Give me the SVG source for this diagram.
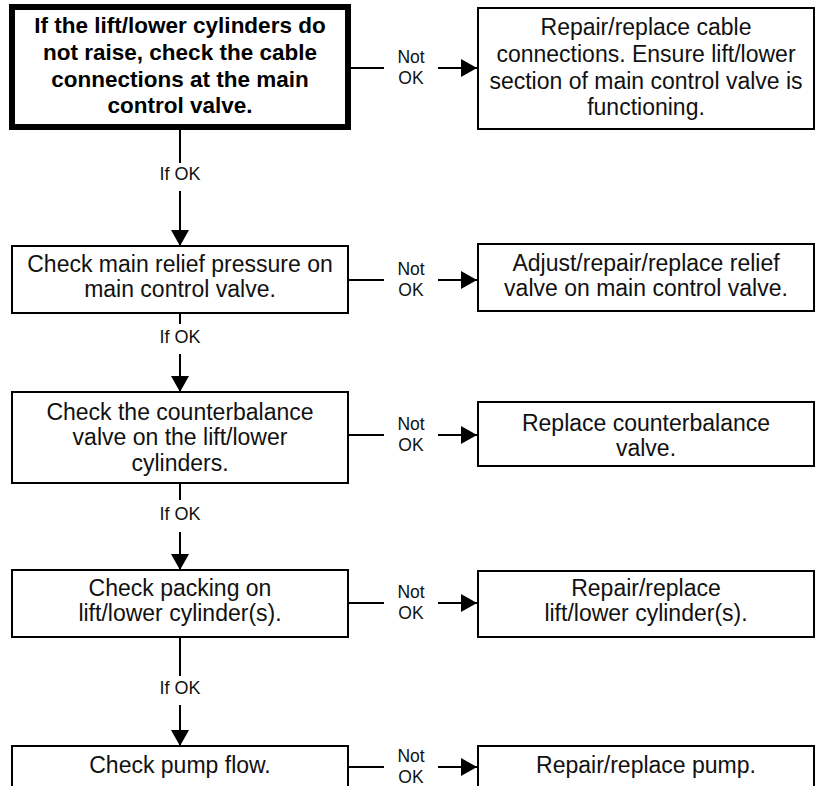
<svg xmlns="http://www.w3.org/2000/svg" width="820" height="786" viewBox="0 0 820 786">
  <style>
    .box { fill: #ffffff; stroke: #000000; stroke-width: 2; }
    .box-main { fill: #ffffff; stroke: #000000; stroke-width: 6; }
    .txt { font-family: "Liberation Sans", Arial, Helvetica, sans-serif; font-size: 23px; fill: #111111; text-anchor: middle; }
    .txt-bold { font-family: "Liberation Sans", Arial, Helvetica, sans-serif; font-size: 22.5px; font-weight: bold; fill: #000000; text-anchor: middle; }
    .lbl { font-family: "Liberation Sans", Arial, Helvetica, sans-serif; font-size: 17.5px; fill: #111111; text-anchor: middle; }
    .lbl-ok { font-family: "Liberation Sans", Arial, Helvetica, sans-serif; font-size: 18px; fill: #111111; text-anchor: middle; }
    .wire { fill: none; stroke: #000000; stroke-width: 2; }
  </style>
  <defs>
    <marker id="arrow" markerUnits="userSpaceOnUse" markerWidth="17" markerHeight="18" refX="16" refY="9" orient="auto">
      <path d="M0,0 L16,9 L0,18 Z" fill="#000000"/>
    </marker>
  </defs>

  <rect width="820" height="786" fill="#ffffff"/>

  <!-- connectors -->
  <g id="connectors">
    <!-- "Not OK" branches to the right -->
    <line class="wire" x1="351" y1="68" x2="384" y2="68"/>
    <line class="wire" x1="438" y1="68" x2="477" y2="68" marker-end="url(#arrow)"/>
    <text class="lbl" x="411" y="63">Not</text>
    <text class="lbl" x="411" y="84">OK</text>

    <line class="wire" x1="348" y1="280" x2="384" y2="280"/>
    <line class="wire" x1="438" y1="280" x2="477" y2="280" marker-end="url(#arrow)"/>
    <text class="lbl" x="411" y="275">Not</text>
    <text class="lbl" x="411" y="296">OK</text>

    <line class="wire" x1="348" y1="435" x2="384" y2="435"/>
    <line class="wire" x1="438" y1="435" x2="477" y2="435" marker-end="url(#arrow)"/>
    <text class="lbl" x="411" y="430">Not</text>
    <text class="lbl" x="411" y="451">OK</text>

    <line class="wire" x1="348" y1="603" x2="384" y2="603"/>
    <line class="wire" x1="438" y1="603" x2="477" y2="603" marker-end="url(#arrow)"/>
    <text class="lbl" x="411" y="598">Not</text>
    <text class="lbl" x="411" y="619">OK</text>

    <line class="wire" x1="348" y1="767" x2="384" y2="767"/>
    <line class="wire" x1="438" y1="767" x2="477" y2="767" marker-end="url(#arrow)"/>
    <text class="lbl" x="411" y="762">Not</text>
    <text class="lbl" x="411" y="783">OK</text>

    <!-- "If OK" links down the left column -->
    <line class="wire" x1="180" y1="130" x2="180" y2="163"/>
    <text class="lbl-ok" x="180" y="180">If OK</text>
    <line class="wire" x1="180" y1="191" x2="180" y2="246" marker-end="url(#arrow)"/>

    <line class="wire" x1="180" y1="313" x2="180" y2="324"/>
    <text class="lbl-ok" x="180" y="343">If OK</text>
    <line class="wire" x1="180" y1="354" x2="180" y2="392" marker-end="url(#arrow)"/>

    <line class="wire" x1="180" y1="483" x2="180" y2="500"/>
    <text class="lbl-ok" x="180" y="520">If OK</text>
    <line class="wire" x1="180" y1="532" x2="180" y2="570" marker-end="url(#arrow)"/>

    <line class="wire" x1="180" y1="637" x2="180" y2="676"/>
    <text class="lbl-ok" x="180" y="694">If OK</text>
    <line class="wire" x1="180" y1="705" x2="180" y2="746" marker-end="url(#arrow)"/>
  </g>

  <!-- left column: checks -->
  <g id="check-cables">
    <rect class="box-main" x="12" y="7" width="336" height="120"/>
    <text class="txt-bold" x="180" y="33">If the lift/lower cylinders do</text>
    <text class="txt-bold" x="180" y="60">not raise, check the cable</text>
    <text class="txt-bold" x="180" y="87">connections at the main</text>
    <text class="txt-bold" x="180" y="113">control valve.</text>
  </g>

  <g id="check-relief">
    <rect class="box" x="12" y="246" width="336" height="67"/>
    <text class="txt" x="180" y="272">Check main relief pressure on</text>
    <text class="txt" x="180" y="297">main control valve.</text>
  </g>

  <g id="check-counterbalance">
    <rect class="box" x="12" y="392" width="336" height="91"/>
    <text class="txt" x="180" y="420">Check the counterbalance</text>
    <text class="txt" x="180" y="445">valve on the lift/lower</text>
    <text class="txt" x="180" y="471">cylinders.</text>
  </g>

  <g id="check-packing">
    <rect class="box" x="12" y="570" width="336" height="67"/>
    <text class="txt" x="180" y="596">Check packing on</text>
    <text class="txt" x="180" y="621">lift/lower cylinder(s).</text>
  </g>

  <g id="check-pump">
    <rect class="box" x="12" y="746" width="336" height="60"/>
    <text class="txt" x="180" y="773">Check pump flow.</text>
  </g>

  <!-- right column: remedies -->
  <g id="fix-cables">
    <rect class="box" x="478" y="8" width="336" height="121"/>
    <text class="txt" x="646" y="35">Repair/replace cable</text>
    <text class="txt" x="646" y="62">connections. Ensure lift/lower</text>
    <text class="txt" x="646" y="89">section of main control valve is</text>
    <text class="txt" x="646" y="115">functioning.</text>
  </g>

  <g id="fix-relief">
    <rect class="box" x="478" y="244" width="336" height="67"/>
    <text class="txt" x="646" y="271">Adjust/repair/replace relief</text>
    <text class="txt" x="646" y="296">valve on main control valve.</text>
  </g>

  <g id="fix-counterbalance">
    <rect class="box" x="478" y="402" width="336" height="64"/>
    <text class="txt" x="646" y="431">Replace counterbalance</text>
    <text class="txt" x="646" y="456">valve.</text>
  </g>

  <g id="fix-cylinders">
    <rect class="box" x="478" y="571" width="336" height="66"/>
    <text class="txt" x="646" y="596">Repair/replace</text>
    <text class="txt" x="646" y="621">lift/lower cylinder(s).</text>
  </g>

  <g id="fix-pump">
    <rect class="box" x="478" y="746" width="336" height="60"/>
    <text class="txt" x="646" y="773">Repair/replace pump.</text>
  </g>
</svg>
